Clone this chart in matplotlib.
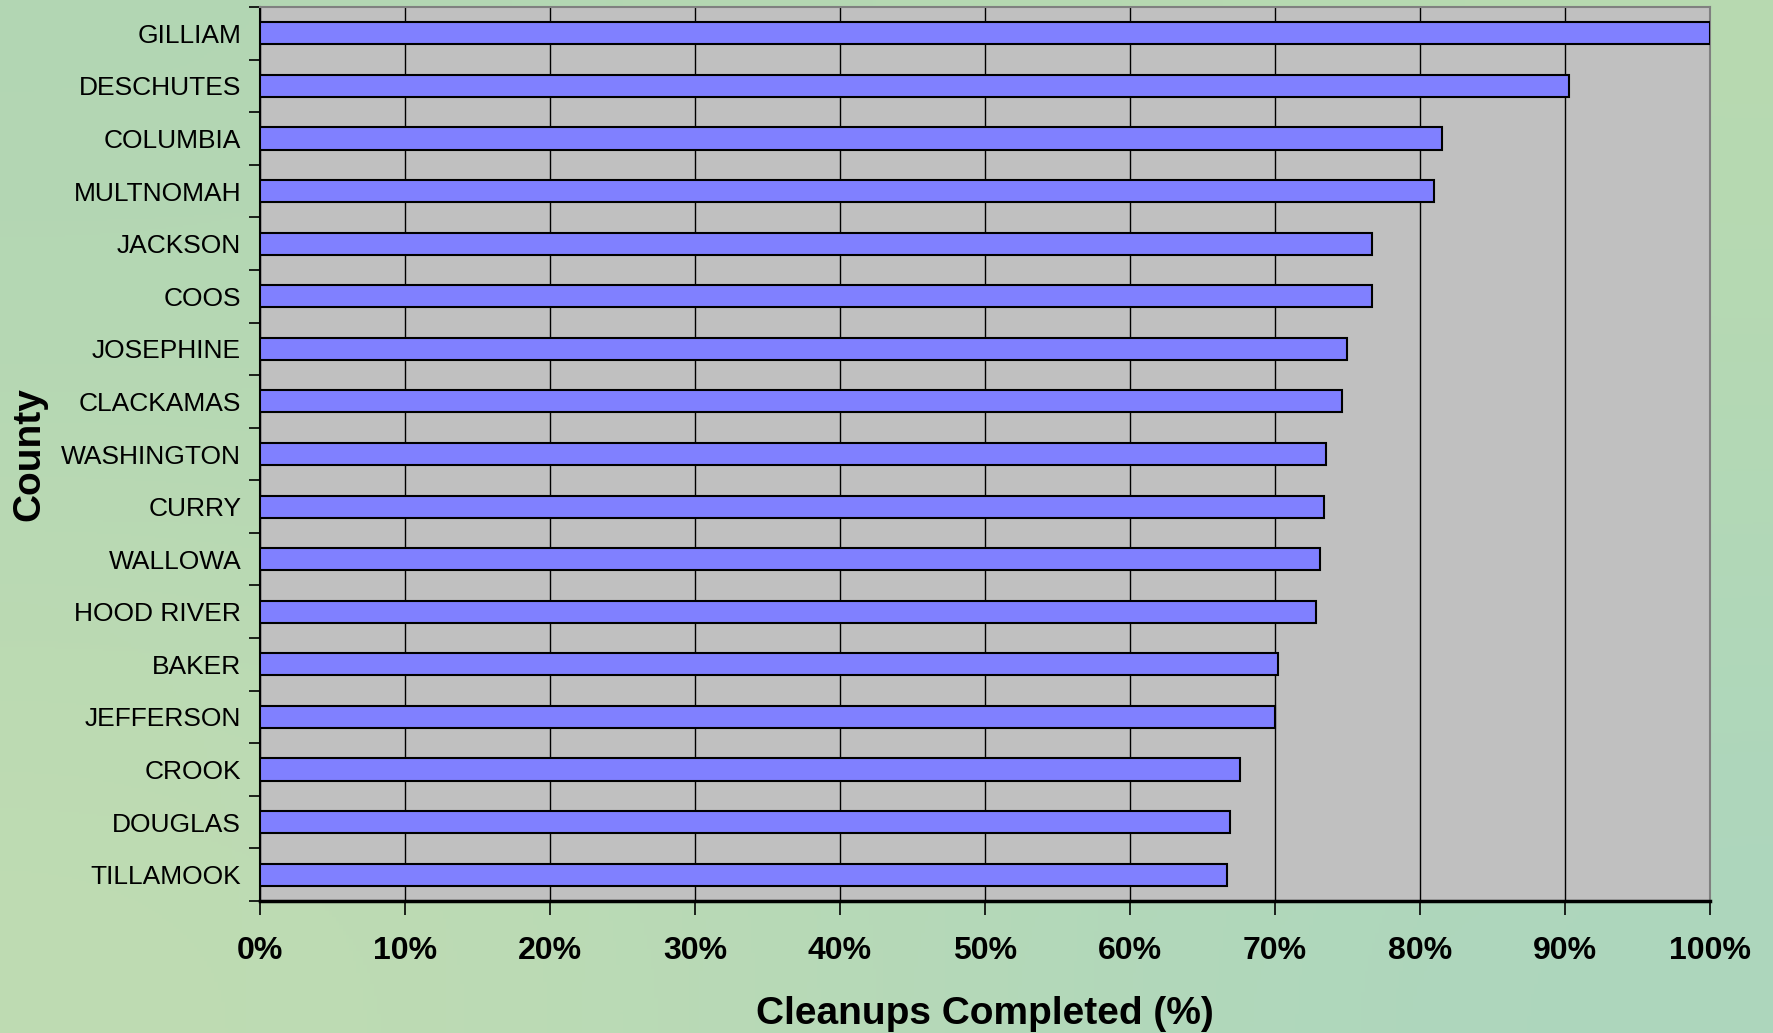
import matplotlib.pyplot as plt
import numpy as np
from matplotlib.ticker import MultipleLocator, PercentFormatter

# counties, top to bottom as drawn
counties = [
    "GILLIAM", "DESCHUTES", "COLUMBIA", "MULTNOMAH", "JACKSON", "COOS",
    "JOSEPHINE", "CLACKAMAS", "WASHINGTON", "CURRY", "WALLOWA",
    "HOOD RIVER", "BAKER", "JEFFERSON", "CROOK", "DOUGLAS", "TILLAMOOK",
]
completed = [
    100.0, 90.3, 81.5, 81.0, 76.7, 76.7,
    75.0, 74.6, 73.5, 73.4, 73.1,
    72.8, 70.2, 70.0, 67.6, 66.9, 66.7,
]
x_ticks = list(range(0, 101, 10))

plt.rcParams["font.family"] = ["Liberation Sans", "DejaVu Sans"]

fig = plt.figure(figsize=(17.74, 10.33), dpi=100)

# pale green slide background
bg = fig.add_axes([0, 0, 1, 1], zorder=-10)
corners = np.array([
    [[178, 214, 180], [184, 218, 176]],
    [[192, 220, 178], [172, 214, 190]],
]) / 255.0
bg.imshow(corners, aspect="auto", interpolation="bicubic", extent=[0, 1, 0, 1])
bg.axis("off")

ax = fig.add_axes([260 / 1774, 1 - 901 / 1033, 1450 / 1774, 894 / 1033])
ax.set_facecolor("#c0c0c0")

y = np.arange(len(counties))
ax.barh(y, completed, height=0.42, color="#8080ff", edgecolor="black",
        linewidth=1.5, zorder=3)

ax.set_xlim(0, 100)
ax.set_ylim(len(counties) - 0.5, -0.5)

ax.set_xticks(x_ticks)
ax.xaxis.set_major_formatter(PercentFormatter(decimals=0))
ax.grid(axis="x", color="black", linewidth=1, zorder=1)
ax.set_axisbelow(True)

ax.set_yticks(y)
ax.set_yticklabels(counties)
ax.yaxis.set_minor_locator(MultipleLocator(1, offset=0.5))
ax.tick_params(axis="y", which="major", length=0, pad=13.5, labelsize=19)
ax.tick_params(axis="y", which="minor", length=8, width=1.2, color="black")
ax.tick_params(axis="x", length=10, width=1.2, pad=15, labelsize=23)
for lab in ax.get_xticklabels():
    lab.set_fontweight("bold")

for side in ["top", "right"]:
    ax.spines[side].set_color("#808080")
    ax.spines[side].set_linewidth(1.5)
ax.spines["left"].set_linewidth(1.5)
ax.spines["bottom"].set_linewidth(2.5)

ax.set_xlabel("Cleanups Completed (%)", fontsize=28, fontweight="bold",
              va="center")
ax.xaxis.set_label_coords(0.5, (901 - 1014) / 894)
ax.set_ylabel("County", fontsize=28, fontweight="bold", va="center")
ax.yaxis.set_label_coords((29 - 260) / 1450, 0.5)

fig.savefig("out.png", dpi=100)
